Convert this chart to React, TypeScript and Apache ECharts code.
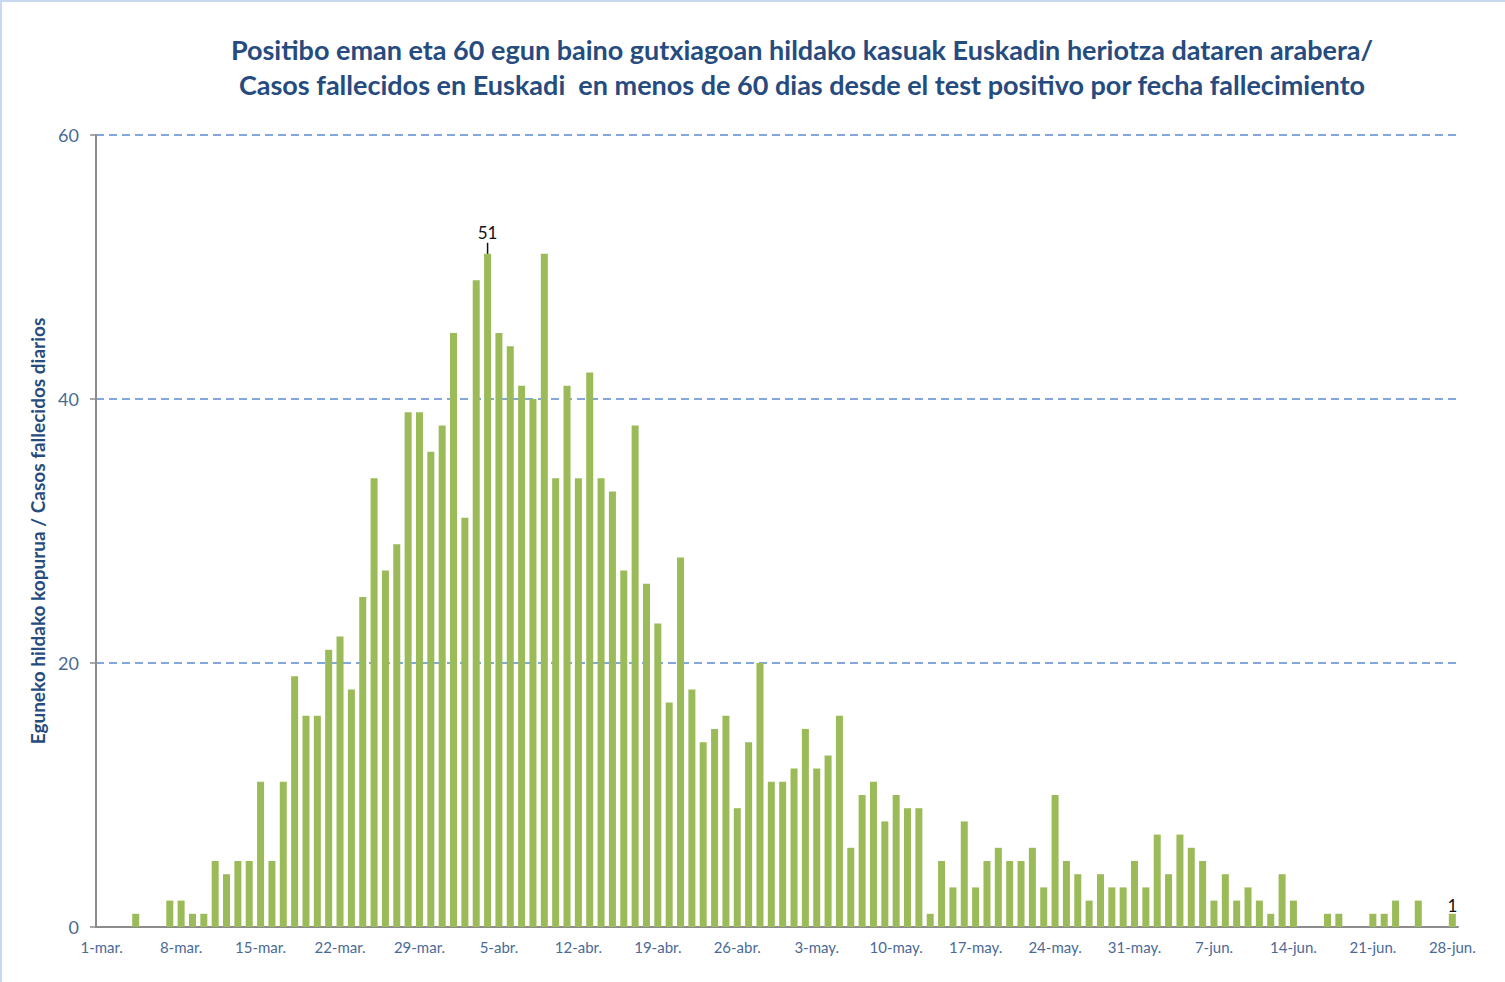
import React, { useEffect, useRef } from "react";
import * as echarts from "echarts";

const monthNames = ["mar.", "abr.", "may.", "jun."];
const monthDays = [31, 30, 31, 28];

const marValues = [0, 0, 0, 1, 0, 0, 2, 2, 1, 1, 5, 4, 5, 5, 11, 5, 11, 19, 16, 16, 21, 22, 18, 25, 34, 27, 29, 39, 39, 36, 38];
const aprValues = [45, 31, 49, 51, 45, 44, 41, 40, 51, 34, 41, 34, 42, 34, 33, 27, 38, 26, 23, 17, 28, 18, 14, 15, 16, 9, 14, 20, 11, 11];
const mayValues = [12, 15, 12, 13, 16, 6, 10, 11, 8, 10, 9, 9, 1, 5, 3, 8, 3, 5, 6, 5, 5, 6, 3, 10, 5, 4, 2, 4, 3, 3, 5];
const junValues = [3, 7, 4, 7, 6, 5, 2, 4, 2, 3, 2, 1, 4, 2, 0, 0, 1, 1, 0, 0, 1, 1, 2, 0, 2, 0, 0, 1];

const labelledDates = ["4-abr.", "28-jun."];

const titleLines = [
  "Positibo eman eta 60 egun baino gutxiagoan hildako kasuak Euskadin heriotza dataren arabera/",
  "Casos fallecidos en Euskadi  en menos de 60 dias desde el test positivo por fecha fallecimiento",
];
const yAxisName = "Eguneko hildako kopurua / Casos fallecidos diarios";

const categories: string[] = [];
monthNames.forEach((m, i) => {
  for (let d = 1; d <= monthDays[i]; d++) categories.push(`${d}-${m}`);
});
const values = [...marValues, ...aprValues, ...mayValues, ...junValues];

export default function App() {
  const ref = useRef<HTMLDivElement>(null);
  useEffect(() => {
    if (!ref.current) return;
    const chart = echarts.init(ref.current, undefined, { renderer: "svg" });
    const labelColor = "#4A6A96";
    const data = values.map((v, i) => {
      const cat = categories[i];
      if (cat === labelledDates[0]) {
        return {
          value: v,
          label: {
            show: true,
            position: "top",
            distance: 0,
            formatter: `{v|${v}}\n{l|}`,
            rich: {
              v: { fontSize: 17, color: "#111", lineHeight: 21, fontFamily: "Lato", align: "center" },
              l: { width: 1.5, height: 11, backgroundColor: "#111", align: "center" },
            },
          },
        };
      }
      if (cat === labelledDates[1]) {
        return {
          value: v,
          label: { show: true, position: "top", distance: 0, fontSize: 17, color: "#111", fontFamily: "Lato" },
        };
      }
      return v;
    });
    chart.setOption({
      animation: false,
      backgroundColor: "#fff",
      title: {
        text: titleLines.join("\n"),
        left: 797,
        top: 27,
        textAlign: "center",
        textStyle: {
          fontFamily: "Lato",
          fontWeight: "bold",
          fontSize: 27,
          lineHeight: 35,
          color: "#264B7E",
        },
      },
      graphic: [
        { type: "line", shape: { x1: 0, y1: 1, x2: 1505, y2: 1 }, style: { stroke: "#C6D9F1", lineWidth: 2 } },
        { type: "line", shape: { x1: 1, y1: 0, x2: 1, y2: 982 }, style: { stroke: "#C6D9F1", lineWidth: 2 } },
      ],
      grid: { left: 96, right: 47, top: 135, bottom: 55 },
      xAxis: {
        type: "category",
        data: categories,
        axisLine: { lineStyle: { color: "#8C8C8C", width: 2 } },
        axisTick: { show: false },
        axisLabel: {
          interval: 6,
          color: labelColor,
          fontSize: 15,
          fontFamily: "Lato",
          margin: 12,
        },
      },
      yAxis: {
        type: "value",
        min: 0,
        max: 60,
        interval: 20,
        name: yAxisName,
        nameLocation: "middle",
        nameGap: 48,
        nameTextStyle: { fontFamily: "Lato", fontWeight: "bold", fontSize: 19, color: "#264B7E" },
        axisLine: { show: true, lineStyle: { color: "#8C8C8C", width: 2 } },
        axisTick: { show: true, length: 6, lineStyle: { color: "#8C8C8C", width: 1.5 } },
        axisLabel: { color: labelColor, fontSize: 18, fontFamily: "Lato", margin: 17 },
        splitLine: { lineStyle: { color: "#5B8BD0", type: [8, 5], width: 1.6 } },
      },
      series: [
        {
          type: "bar",
          data,
          barWidth: 7,
          itemStyle: { color: "#9BBB59" },
        },
      ],
    });
    return () => chart.dispose();
  }, []);
  return (
    <div style={{ position: "fixed", left: 0, top: 0, width: 1505, height: 982 }}>
      <div ref={ref} style={{ width: 1505, height: 982 }} />
    </div>
  );
}
